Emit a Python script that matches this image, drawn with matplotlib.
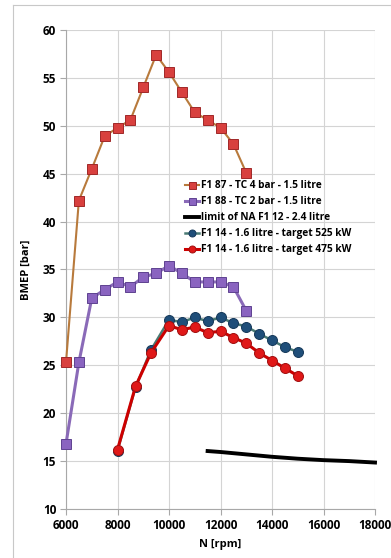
import matplotlib
matplotlib.use('Agg')
import matplotlib.pyplot as plt
from matplotlib.lines import Line2D

plt.rcParams['font.family'] = ['Open Sans', 'DejaVu Sans']
plt.rcParams['font.weight'] = 'bold'

# F1 87 - TC 4 bar - 1.5 litre
rpm_87 = [6000, 6500, 7000, 7500, 8000, 8500, 9000, 9500, 10000, 10500,
          11000, 11500, 12000, 12500, 13000]
bmep_87 = [25.3, 42.2, 45.5, 48.9, 49.8, 50.6, 54.0, 57.4, 55.6, 53.5,
           51.4, 50.6, 49.8, 48.1, 45.1]

# F1 88 - TC 2 bar - 1.5 litre
rpm_88 = rpm_87
bmep_88 = [16.8, 25.3, 32.0, 32.9, 33.7, 33.2, 34.2, 34.6, 35.4, 34.6,
           33.7, 33.7, 33.7, 33.2, 30.7]

# limit of NA F1 12 - 2.4 litre
rpm_na = [11500, 12000, 13000, 14000, 15000, 16000, 17000, 18000]
bmep_na = [16.05, 15.95, 15.7, 15.45, 15.25, 15.1, 15.0, 14.85]

# F1 14 - 1.6 litre
rpm_14 = [8000, 8700, 9300, 10000, 10500, 11000, 11500, 12000, 12500,
          13000, 13500, 14000, 14500, 15000]
bmep_525 = [16.1, 22.7, 26.6, 29.75, 29.5, 30.0, 29.6, 30.0, 29.4,
            29.05, 28.3, 27.6, 26.9, 26.4]
bmep_475 = [16.2, 22.8, 26.3, 29.15, 28.7, 29.0, 28.4, 28.55, 27.9,
            27.3, 26.3, 25.5, 24.7, 23.9]

fig = plt.figure(figsize=(3.91, 5.58), dpi=100)
ax = fig.add_axes([66 / 391, 49 / 558, 309 / 391, 479 / 558])

# chart border like the spreadsheet frame
fig.add_artist(Line2D([13 / 391, 13 / 391], [0, 553 / 558], color='#c8c8c8', lw=0.8))
fig.add_artist(Line2D([13 / 391, 1], [553 / 558, 553 / 558], color='#c8c8c8', lw=0.8))

ax.plot(rpm_87, bmep_87, color='#b87a3c', lw=1.5, marker='s', ms=7.2,
        mfc='#d8403e', mec='#a02828', mew=0.7, label='F1 87 - TC 4 bar - 1.5 litre',
        zorder=3, clip_on=False)
ax.plot(rpm_88, bmep_88, color='#8a6ab8', lw=2.2, marker='s', ms=7.2,
        mfc='#8a64c0', mec='#5e4290', mew=0.7, label='F1 88 - TC 2 bar - 1.5 litre',
        zorder=3, clip_on=False)
ax.plot(rpm_na, bmep_na, color='black', lw=2.8, label='limit of NA F1 12 - 2.4 litre',
        zorder=3, clip_on=False)
ax.plot(rpm_14, bmep_525, color='#4a7a74', lw=1.8, marker='o', ms=7.2,
        mfc='#1f4e79', mec='#16395a', mew=0.7, label='F1 14 - 1.6 litre - target 525 kW',
        zorder=3, clip_on=False)
ax.plot(rpm_14, bmep_475, color='#cc0000', lw=2.2, marker='o', ms=7.2,
        mfc='#e01818', mec='#a01010', mew=0.7, label='F1 14 - 1.6 litre - target 475 kW',
        zorder=4, clip_on=False)

ax.set_xlim(6000, 18000)
ax.set_ylim(10, 60)
ax.set_xticks(range(6000, 18001, 2000))
ax.set_yticks(range(10, 61, 5))
ax.grid(True, color='#d4d4d4', lw=0.8)
ax.set_axisbelow(True)
for s in ['top', 'right']:
    ax.spines[s].set_visible(False)
for s in ['left', 'bottom']:
    ax.spines[s].set_color('#a8a8a8')
    ax.spines[s].set_linewidth(0.8)
ax.tick_params(length=4, color='#a8a8a8', labelsize=8.5, pad=3)
for lab in ax.get_xticklabels() + ax.get_yticklabels():
    lab.set_fontweight('bold')
ax.set_xlabel('N [rpm]', fontsize=8, fontweight='bold', labelpad=5)
ax.set_ylabel('BMEP [bar]', fontsize=8, fontweight='bold', labelpad=8)

leg = ax.legend(loc='upper left', bbox_to_anchor=(0.37, 0.697), frameon=False,
                handlelength=1.3, handletextpad=0.2, labelspacing=0.5,
                markerscale=0.7, borderpad=0, prop={'weight': 'bold', 'size': 7.3})

fig.savefig('out.png', dpi=100)
